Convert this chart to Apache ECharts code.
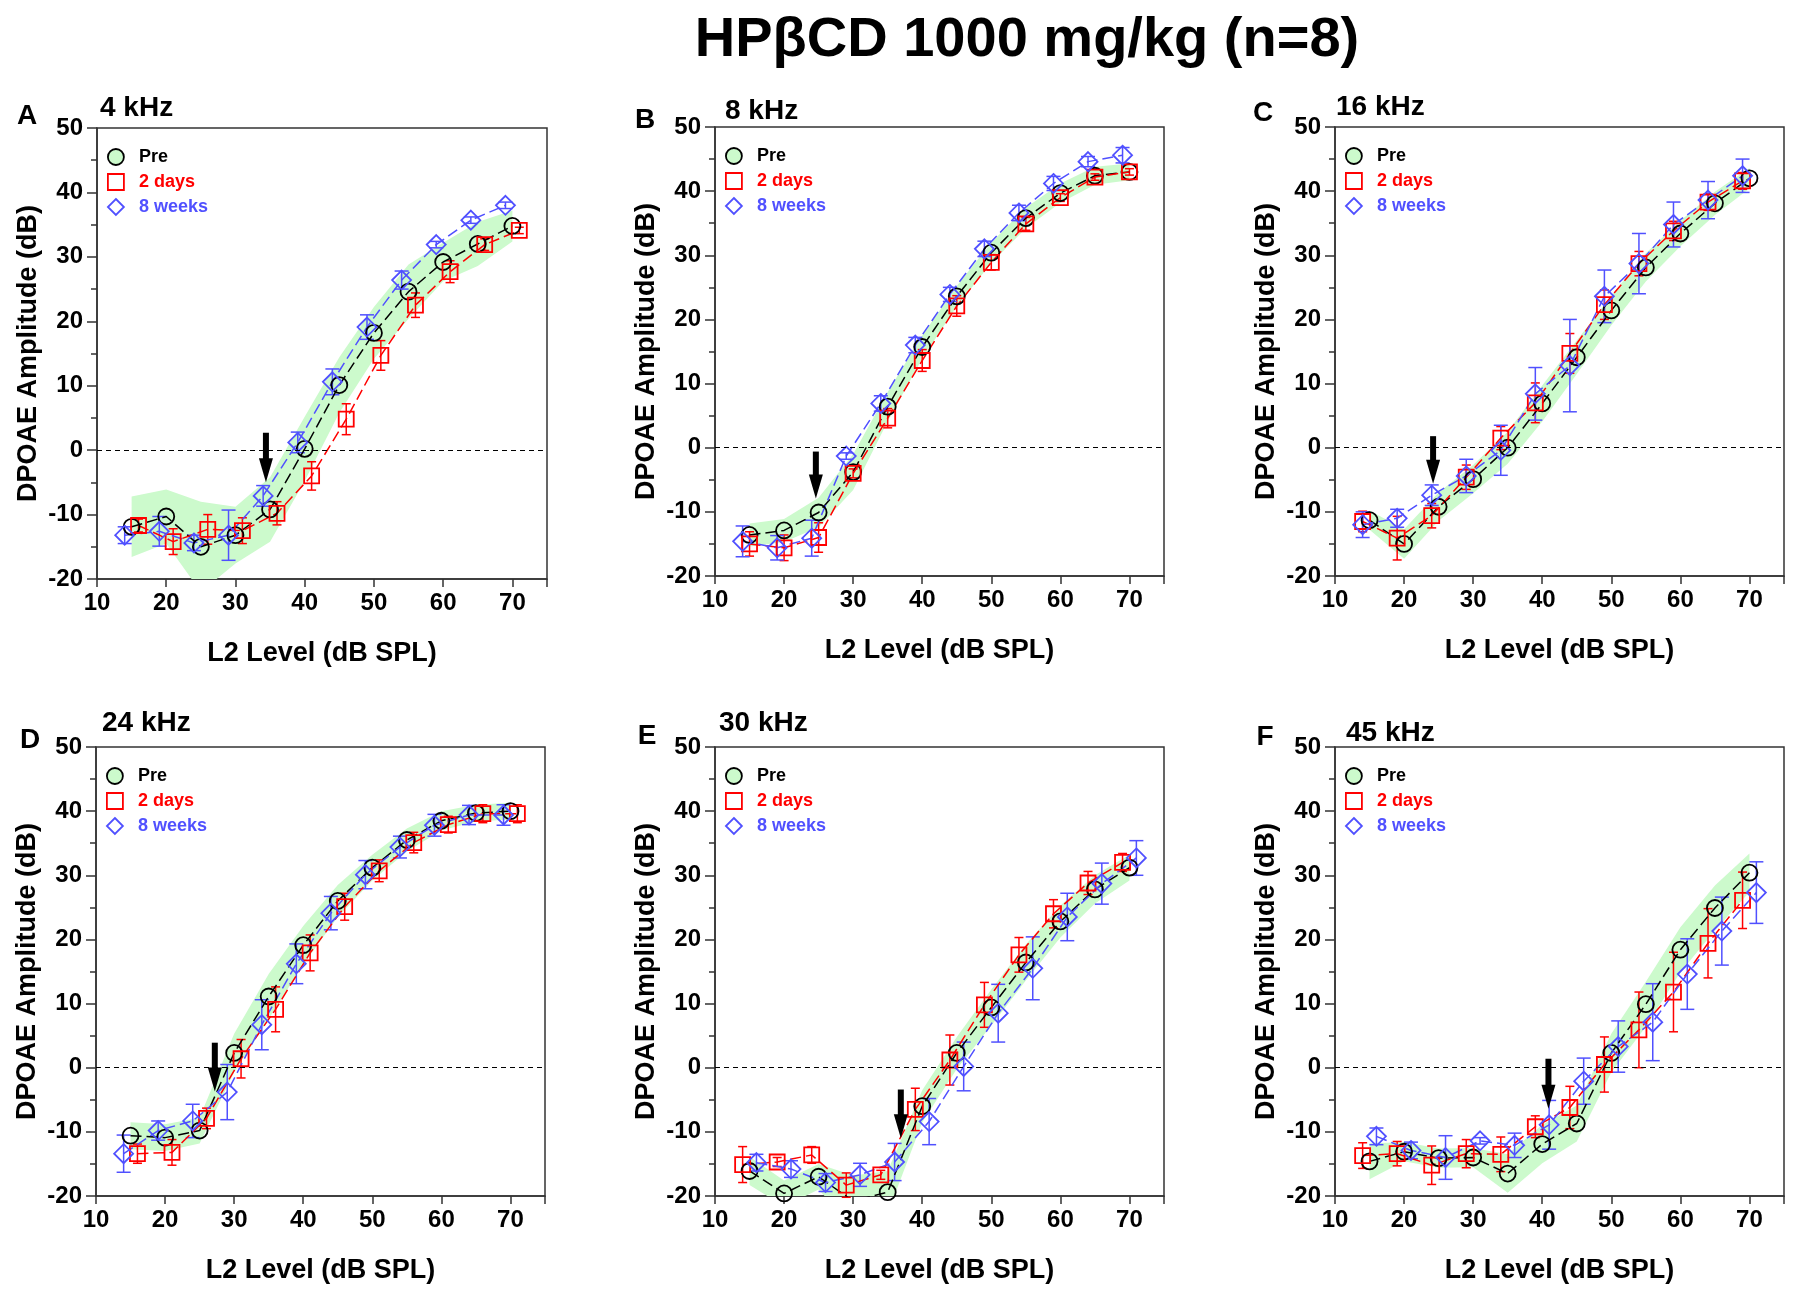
<!DOCTYPE html>
<html>
<head>
<meta charset="utf-8">
<title>HPβCD 1000 mg/kg DPOAE</title>
<script src="https://cdn.jsdelivr.net/npm/echarts@6/dist/echarts.min.js"></script>
<style>
  html, body { margin: 0; padding: 0; background: #fff; }
  #chart { width: 1800px; height: 1301px; }
</style>
</head>
<body>
<div id="chart"></div>
<script>
// L2 levels of the Pre series (dB SPL)
const levels = [15, 20, 25, 30, 35, 40, 45, 50, 55, 60, 65, 70]
const panelLetters = ['A', 'B', 'C', 'D', 'E', 'F']
const freqLabels = ['4 kHz', '8 kHz', '16 kHz', '24 kHz', '30 kHz', '45 kHz']
// plotted x is shifted a little so the groups do not overlap
const shift2d = [1, 0, -1, 1, -1, -1]
const shift8w = [-1, -1, -1, -1, 1, 1]

// Pre: mean and SD (green band)
const preA = [-11.9, -10.3, -15.0, -13.2, -9.2, 0.2, 10.1, 18.2, 24.6, 29.2, 32.0, 34.8]
const sdA = [4.7, 4.2, 7.0, 4.4, 5.0, 5.0, 4.3, 4.0, 4.2, 3.0, 3.4, 2.4]
const preB = [-13.6, -12.9, -10.1, -3.8, 6.4, 15.7, 23.6, 30.4, 35.8, 39.7, 42.4, 43.0]
const sdB = [1.8, 1.8, 2.3, 2.8, 2.3, 1.8, 1.6, 1.6, 1.6, 1.5, 1.4, 1.3]
const preC = [-11.3, -15.0, -9.2, -4.9, 0.0, 6.9, 14.1, 21.4, 28.1, 33.4, 38.1, 42.0]
const sdC = [1.5, 2.3, 2.2, 2.2, 2.5, 2.8, 2.6, 2.3, 2.2, 2.0, 1.8, 1.6]
const preD = [-10.6, -10.9, -9.8, 2.3, 11.1, 19.1, 26.0, 31.2, 35.5, 38.5, 39.7, 40.0]
const sdD = [2.1, 2.1, 2.0, 3.0, 3.5, 3.0, 2.5, 2.0, 1.8, 1.5, 1.3, 1.3]
const preE = [-16.1, -19.6, -17.0, -20.8, -19.4, -6.0, 2.3, 9.4, 16.4, 22.8, 27.8, 31.2]
const sdE = [2.2, 2.0, 2.0, 4.0, 3.3, 2.5, 2.5, 2.8, 2.8, 2.5, 2.2, 2.0]
const preF = [-14.6, -13.1, -14.1, -14.0, -16.5, -11.9, -8.7, 2.3, 9.9, 18.4, 24.9, 30.4]
const sdF = [2.8, 1.5, 1.5, 1.5, 3.0, 3.0, 2.8, 3.0, 3.5, 3.5, 3.5, 3.0]

// 2 days: mean and error
const d2A = [-11.7, -14.2, -12.3, -12.5, -9.8, -4.0, 4.8, 14.7, 22.5, 27.7, 31.9, 34.1]
const e2A = [1.0, 2.0, 2.3, 2.0, 1.8, 2.2, 2.4, 2.3, 1.9, 1.7, 0.9, 0.5]
const d2B = [-15.0, -15.6, -14.0, -4.0, 4.6, 13.6, 22.1, 28.9, 34.9, 39.0, 42.2, 43.0]
const e2B = [1.9, 2.0, 2.3, 0.7, 1.5, 1.7, 1.6, 1.2, 1.0, 0.6, 0.5, 0.5]
const d2C = [-11.5, -14.1, -10.6, -4.6, 1.5, 7.0, 14.7, 22.3, 28.7, 33.8, 38.3, 41.6]
const e2C = [1.6, 3.4, 1.9, 1.9, 1.8, 3.1, 3.1, 2.3, 1.9, 1.5, 1.3, 1.3]
const d2D = [-13.4, -13.2, -7.9, 1.4, 9.1, 17.9, 25.1, 30.7, 35.1, 37.9, 39.6, 39.6]
const e2D = [1.5, 2.0, 1.6, 3.0, 3.5, 2.8, 2.1, 1.7, 1.6, 1.3, 1.4, 1.4]
const d2E = [-15.1, -14.7, -13.6, -18.3, -16.7, -6.5, 1.2, 9.8, 17.6, 24.0, 28.8, 32.0]
const e2E = [2.8, 0.7, 1.3, 1.9, 0.7, 3.3, 3.9, 3.5, 2.7, 2.2, 1.8, 1.4]
const d2F = [-13.7, -13.4, -15.2, -13.4, -13.5, -9.2, -6.2, 0.5, 5.9, 11.8, 19.4, 26.1]
const e2F = [2.0, 1.9, 3.0, 2.2, 2.7, 1.7, 3.3, 4.3, 5.9, 6.2, 5.4, 4.4]

// 8 weeks: mean and error
const w8A = [-13.2, -12.6, -14.4, -13.2, -7.1, 1.2, 10.6, 19.1, 26.4, 31.9, 35.7, 38.0]
const e8A = [1.3, 2.3, 1.2, 3.9, 1.6, 1.6, 2.0, 1.9, 1.4, 0.5, 0.5, 0.5]
const w8B = [-14.6, -15.6, -14.1, -1.3, 6.9, 16.0, 23.9, 31.0, 36.6, 41.2, 44.6, 45.6]
const e8B = [2.4, 1.9, 2.8, 0.5, 1.2, 1.2, 1.1, 1.2, 1.2, 1.1, 0.8, 1.2]
const w8C = [-12.0, -11.0, -7.4, -4.4, -0.4, 8.4, 12.8, 23.6, 28.7, 34.8, 38.6, 42.4]
const e8C = [2.0, 1.4, 1.6, 2.6, 3.9, 4.1, 7.2, 4.1, 4.7, 3.5, 2.9, 2.6]
const w8D = [-13.4, -9.8, -8.3, -3.8, 6.7, 16.2, 24.1, 30.1, 34.4, 37.8, 39.4, 39.4]
const e8D = [2.9, 1.5, 2.6, 4.3, 3.9, 3.1, 2.6, 2.2, 1.7, 1.7, 1.5, 1.6]
const w8E = [-14.8, -15.8, -17.9, -16.7, -14.7, -8.4, 0.2, 8.5, 15.5, 23.5, 28.7, 32.7]
const e8E = [1.3, 1.3, 1.4, 1.8, 2.9, 3.6, 3.8, 4.5, 4.9, 3.7, 3.2, 2.7]
const w8F = [-10.7, -12.9, -14.0, -11.4, -12.1, -8.9, -2.1, 3.3, 7.1, 14.6, 21.3, 27.3]
const e8F = [1.3, 1.3, 3.4, 0.5, 1.9, 3.8, 3.6, 4.0, 6.0, 5.5, 5.3, 4.8]

// threshold arrows: x, top of shaft, tip (dB)
const arrowX = [34.4, 24.6, 24.2, 27.2, 36.9, 40.9]
const arrowTop = [2.7, -0.6, 1.8, 3.9, -3.4, 1.4]
const arrowTip = [-5.0, -7.9, -5.6, -3.7, -11.0, -6.4]

const preAll = [preA, preB, preC, preD, preE, preF]
const sdAll = [sdA, sdB, sdC, sdD, sdE, sdF]
const d2All = [d2A, d2B, d2C, d2D, d2E, d2F]
const e2All = [e2A, e2B, e2C, e2D, e2E, e2F]
const w8All = [w8A, w8B, w8C, w8D, w8E, w8F]
const e8All = [e8A, e8B, e8C, e8D, e8E, e8F]

// ---- layout / style ----
const FONT = 'Arial, "Liberation Sans", Helvetica, sans-serif'
const RED = '#ff0000'
const BLUE = '#5050ff'
const GREEN = '#ccfacc'
const gridLeft = [97, 715, 1335, 96, 715, 1335]
const gridTop = [128, 127, 127, 747, 747, 747]
const gridW = [450, 449, 449, 449, 449, 449]
const gridH = [451, 449, 449, 449, 449, 449]
const letterPos = [[27, 116], [645, 120], [1263, 113], [30, 740], [647, 736], [1265, 737]]
const freqPos = [[100, 108], [725, 111], [1336, 107], [102, 723], [719, 723], [1346, 733]]

function pairs (xs, ys) {
    return xs.map((x, k) => [x, ys[k]])
}

function errorBarSeries (i, xs, ys, es, color, capHalf) {
    return {
        type: 'custom',
        xAxisIndex: i,
        yAxisIndex: i,
        silent: true,
        z: 2,
        data: xs.map((x, k) => [x, ys[k], es[k]]),
        encode: { x: 0, y: 1 },
        renderItem (params, api) {
            const x = api.value(0)
            const y = api.value(1)
            const e = api.value(2)
            const top = api.coord([x, y + e])
            const bot = api.coord([x, y - e])
            const st = { stroke: color, lineWidth: 1.5 }
            return {
                type: 'group',
                children: [
                    { type: 'line', shape: { x1: top[0], y1: top[1], x2: bot[0], y2: bot[1] }, style: st },
                    { type: 'line', shape: { x1: top[0] - capHalf, y1: top[1], x2: top[0] + capHalf, y2: top[1] }, style: st },
                    { type: 'line', shape: { x1: bot[0] - capHalf, y1: bot[1], x2: bot[0] + capHalf, y2: bot[1] }, style: st }
                ]
            }
        }
    }
}

const grids = []
const xAxes = []
const yAxes = []
const legends = []
const series = []
const texts = []

texts.push({
    type: 'text', x: 1027, y: 41,
    style: { text: 'HPβCD 1000 mg/kg (n=8)', font: 'bold 56px ' + FONT, fill: '#000', textAlign: 'center', textVerticalAlign: 'middle' }
})

for (let i = 0; i < 6; i++) {
    const pre = preAll[i]
    const sd = sdAll[i]
    const x2d = levels.map(v => v + shift2d[i])
    const x8w = levels.map(v => v + shift8w[i])

    grids.push({
        left: gridLeft[i], top: gridTop[i], width: gridW[i], height: gridH[i],
        show: true, borderColor: '#333', borderWidth: 1.5, backgroundColor: 'transparent'
    })
    xAxes.push({
        gridIndex: i, type: 'value', min: 10, max: 75, interval: 10,
        name: 'L2 Level (dB SPL)', nameLocation: 'middle', nameGap: 61,
        nameTextStyle: { fontFamily: FONT, fontWeight: 'bold', fontSize: 27, color: '#000' },
        axisLine: { show: true, onZero: false, lineStyle: { color: '#333', width: 1.5 } },
        axisTick: { show: true, length: 8, lineStyle: { color: '#333', width: 1.5 } },
        axisLabel: {
            margin: 12, fontFamily: FONT, fontWeight: 'bold', fontSize: 24, color: '#000',
            formatter: v => (v > 70 ? '' : String(v))
        },
        splitLine: { show: false }
    })
    yAxes.push({
        gridIndex: i, type: 'value', min: -20, max: 50, interval: 10,
        name: 'DPOAE Amplitude (dB)', nameLocation: 'middle', nameGap: 55,
        nameTextStyle: { fontFamily: FONT, fontWeight: 'bold', fontSize: 27, color: '#000' },
        axisLine: { show: true, lineStyle: { color: '#333', width: 1.5 } },
        axisTick: { show: true, length: 10, lineStyle: { color: '#333', width: 1.5 } },
        minorTick: { show: true, splitNumber: 2, length: 6, lineStyle: { color: '#333', width: 1.5 } },
        axisLabel: { margin: 14, fontFamily: FONT, fontWeight: 'bold', fontSize: 24, color: '#000' },
        splitLine: { show: false }
    })
    legends.push({
        orient: 'vertical', left: gridLeft[i] + 10, top: gridTop[i] + 20,
        itemWidth: 16, itemHeight: 16, itemGap: 7, selectedMode: false, padding: 0,
        formatter: name => '  ' + name,
        textStyle: { fontFamily: FONT, fontWeight: 'bold', fontSize: 18, lineHeight: 18 },
        data: [
            { name: 'Pre', icon: 'circle', itemStyle: { color: GREEN, borderColor: '#000', borderWidth: 1.8 }, textStyle: { color: '#000' } },
            { name: '2 days', icon: 'rect', itemStyle: { color: '#fff', borderColor: RED, borderWidth: 1.8 }, textStyle: { color: RED } },
            { name: '8 weeks', icon: 'diamond', itemStyle: { color: '#fff', borderColor: BLUE, borderWidth: 1.8 }, textStyle: { color: BLUE } }
        ]
    })

    // Pre +/- SD band
    series.push({
        type: 'custom',
        xAxisIndex: i,
        yAxisIndex: i,
        silent: true,
        clip: true,
        z: 1,
        data: [[levels[0], pre[0]]],
        renderItem (params, api) {
            const up = levels.map((x, k) => api.coord([x, pre[k] + sd[k]]))
            const lo = levels.map((x, k) => api.coord([x, pre[k] - sd[k]])).reverse()
            const cs = params.coordSys
            return {
                type: 'polygon',
                shape: { points: up.concat(lo) },
                style: { fill: GREEN },
                clipPath: { type: 'rect', shape: { x: cs.x, y: cs.y, width: cs.width, height: cs.height } }
            }
        }
    })

    series.push(errorBarSeries(i, x2d, d2All[i], e2All[i], RED, 4.5))
    series.push(errorBarSeries(i, x8w, w8All[i], e8All[i], BLUE, 7))

    series.push({
        name: 'Pre', type: 'line', xAxisIndex: i, yAxisIndex: i, z: 3,
        data: pairs(levels, pre),
        symbol: 'circle', symbolSize: 16,
        itemStyle: { color: 'rgba(0,0,0,0)', borderColor: '#000', borderWidth: 1.8 },
        lineStyle: { color: '#000', width: 1.5, type: [11, 5] },
        markLine: {
            silent: true, symbol: 'none', label: { show: false },
            lineStyle: { color: '#000', type: [5, 4], width: 1.2 },
            data: [{ yAxis: 0 }]
        }
    })
    series.push({
        name: '2 days', type: 'line', xAxisIndex: i, yAxisIndex: i, z: 3,
        data: pairs(x2d, d2All[i]),
        symbol: 'rect', symbolSize: 15,
        itemStyle: { color: 'rgba(0,0,0,0)', borderColor: RED, borderWidth: 1.8 },
        lineStyle: { color: RED, width: 1.5, type: [11, 5] }
    })
    series.push({
        name: '8 weeks', type: 'line', xAxisIndex: i, yAxisIndex: i, z: 3,
        data: pairs(x8w, w8All[i]),
        symbol: 'diamond', symbolSize: 19,
        itemStyle: { color: 'rgba(0,0,0,0)', borderColor: BLUE, borderWidth: 1.8 },
        lineStyle: { color: BLUE, width: 1.5, type: [11, 5] }
    })

    // threshold arrow
    series.push({
        type: 'custom', xAxisIndex: i, yAxisIndex: i, silent: true, z: 4,
        data: [[arrowX[i], arrowTop[i], arrowTip[i]]],
        encode: { x: 0, y: [1, 2] },
        renderItem (params, api) {
            const top = api.coord([api.value(0), api.value(1)])
            const tip = api.coord([api.value(0), api.value(2)])
            const headLen = 24
            const headHalf = 7
            const shaft = 6
            return {
                type: 'group',
                children: [
                    { type: 'rect', shape: { x: top[0] - shaft / 2, y: top[1], width: shaft, height: tip[1] - headLen - top[1] + 1 }, style: { fill: '#000' } },
                    { type: 'polygon', shape: { points: [[tip[0] - headHalf, tip[1] - headLen], [tip[0] + headHalf, tip[1] - headLen], [tip[0], tip[1]]] }, style: { fill: '#000' } }
                ]
            }
        }
    })

    texts.push({
        type: 'text', x: letterPos[i][0], y: letterPos[i][1],
        style: { text: panelLetters[i], font: 'bold 28px ' + FONT, fill: '#000', textAlign: 'center', textVerticalAlign: 'middle' }
    })
    texts.push({
        type: 'text', x: freqPos[i][0], y: freqPos[i][1],
        style: { text: freqLabels[i], font: 'bold 28px ' + FONT, fill: '#000', textAlign: 'left', textVerticalAlign: 'middle' }
    })
}

const chart = echarts.init(document.getElementById('chart'), null, { renderer: 'canvas' })
chart.setOption({
    animation: false,
    backgroundColor: '#fff',
    grid: grids,
    xAxis: xAxes,
    yAxis: yAxes,
    legend: legends,
    series: series,
    graphic: texts
})
</script>
</body>
</html>
